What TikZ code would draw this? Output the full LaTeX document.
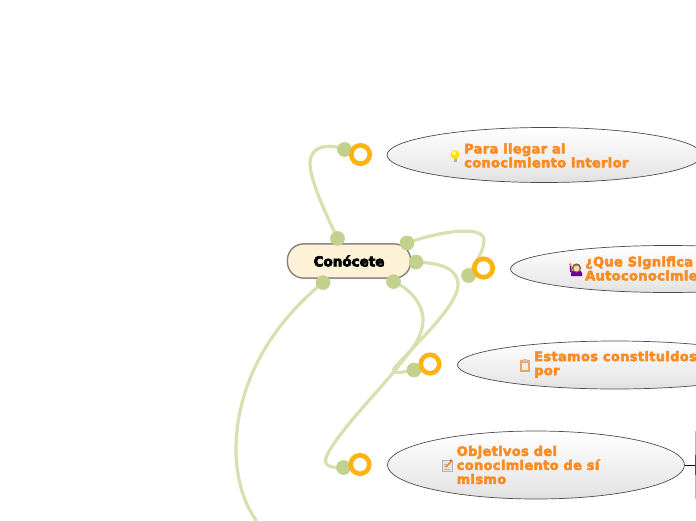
\documentclass[tikz,border=0pt]{standalone}
\usepackage{fontspec}
\setmainfont[FakeBold=4,LetterSpace=2.6]{DejaVu Sans Bold}
\newfontfamily\titlefont[FakeBold=5]{DejaVu Sans Bold}
\usetikzlibrary{shapes.geometric}
\definecolor{linkgreen}{HTML}{D7E0AE}
\definecolor{dotgreen}{HTML}{C2D18E}
\definecolor{ringorange}{HTML}{FFB30F}
\definecolor{textorange}{HTML}{FB8C23}
\definecolor{rootfill}{HTML}{FDF1D8}
\definecolor{rootline}{HTML}{857C78}
\pgfdeclareverticalshading{bubbleshade}{100bp}{
 color(0bp)=(white!97!black); color(24bp)=(black!13); color(34bp)=(black!9); color(62bp)=(white!97!black); color(75bp)=(white); color(100bp)=(white)}
\tikzset{
 link/.style={draw=linkgreen,line width=3.2pt,line cap=round},
 dot/.style={circle,fill=dotgreen,minimum size=14.5pt,inner sep=0pt},
 ring/.style={circle,draw=ringorange,line width=4.6pt,fill=white,minimum size=18.5pt,inner sep=0pt},
 bubble/.style={ellipse,draw=black!70,line width=.7pt,shading=bubbleshade,inner sep=0pt},
 topic/.style={anchor=west,align=left,text=textorange,font=\fontsize{13}{14}\selectfont,inner sep=0pt},
 rootbox/.style={rounded corners=16pt,draw=rootline,line width=1.2pt,fill=rootfill,minimum width=123pt,minimum height=34pt,inner sep=0pt,font=\titlefont\fontsize{13.5}{15}\selectfont}
}
\begin{document}
\begin{tikzpicture}[x=1pt,y=-1pt]
\useasboundingbox (0,0) rectangle (696,520);
\node[rootbox] (root) at (349,261) {Conócete};
\node[dot] (r1) at (337.5,238.5) {};
\node[dot] (r2) at (407,243) {};
\node[dot] (r3) at (416,262) {};
\node[dot] (r4) at (393.5,281.5) {};
\node[dot] (r5) at (323,282.5) {};
\node[dot] (a1) at (344.5,149.5) {};
\node[dot] (a2) at (468.5,275.5) {};
\node[dot] (a3) at (414,370) {};
\node[dot] (a4) at (343.5,467.5) {};
\coordinate (e5) at (256,520);
\draw[link] (r1.center) .. controls (325,212) and (310,180) .. (310,163) .. controls (310,146) and (328,143) .. (a1.center);
\draw[link] (r2.center) .. controls (440,231) and (484,225) .. (484,240) .. controls (484,252) and (475,262) .. (a2.center);
\draw[link] (r3.center) .. controls (440,263) and (458,268) .. (458,285) .. controls (458,305) and (415,345) .. (396,366) .. controls (391,372) and (394,373) .. (400,372.5) -- (a3.center);
\draw[link] (r4.center) .. controls (408,288) and (423,302) .. (423,320) .. controls (423,340) and (405,357) .. (397,368) .. controls (375,395) and (340,430) .. (327,455) .. controls (322,466) and (330,468) .. (a4.center);
\draw[link] (r5.center) .. controls (265,330) and (236,390) .. (236,450) .. controls (236,480) and (245,505) .. (e5);
\node[rootbox] at (349,261) {Conócete};
\foreach \x/\y in {337.5/238.5,407/243,416/262,393.5/281.5,323/282.5,344.5/149.5,468.5/275.5,414/370,343.5/467.5}{\node[dot] at (\x,\y) {};}
\node[ring] (o1) at (360.5,154.5) {};
\node[ring] (o2) at (483.5,268) {};
\node[ring] (o3) at (430,364) {};
\node[ring] (o4) at (360,464.5) {};
\node[bubble,minimum width=315pt,minimum height=55pt] (b1) at (544.5,155) {};
\node[bubble,minimum width=315pt,minimum height=47pt] (b2) at (668,269) {};
\node[bubble,minimum width=315pt,minimum height=48pt] (b3) at (615,365) {};
\node[bubble,minimum width=297pt,minimum height=68pt] (b4) at (536,465) {};
\node[topic] (t1) at (464,155.5) {Para llegar al\\conocimiento interior};
\node[topic] (t2) at (585,268.5) {¿Que Significa\\Autoconocimiento};
\node[topic] (t3) at (534,364.5) {Estamos constituidos\\por};
\node[topic] (t4) at (456.5,465) {Objetivos del\\conocimiento de sí\\mismo};
% bulb
\fill[gray!60] (453.5,157) rectangle (457,161.5);
\fill[yellow!85!orange] (455,154.5) circle (4.6pt);
\fill[yellow!35] (454,153) circle (2pt);
% person
\fill[violet!80!blue] (571,273) .. controls (572,268) and (581,268) .. (582,273) -- (582,276) -- (571,276) -- cycle;
\fill[brown!75!black] (576.5,268) circle (4.6pt);
\fill[orange!30!white] (576.5,268.5) circle (3pt);
\draw[violet!80!blue,line width=1.6pt] (571,272) -- (570.5,266);
\fill[orange!70!brown] (570.5,264.5) circle (1.4pt);
% clipboard
\fill[brown!55!orange!70] (519.5,360) rectangle (530,371.5);
\fill[white!92!black] (521.5,362.5) rectangle (528,369.5);
\fill[gray!45] (522.5,359) rectangle (527,362);
% note
\fill[white!90!black,draw=gray!60,line width=.5pt] (442,460.5) rectangle (452,471);
\draw[gray!60,line width=.5pt] (443.5,464) -- (447,464) (443.5,466.5) -- (447,466.5) (443.5,469) -- (450,469);
\draw[orange,line width=1.5pt] (446,467) -- (451.5,461);
\fill[red!70] (451,460) circle (1pt);
% right edge
\coordinate (edge) at (696,465);
\draw[black,line width=.8pt] (b4.east) -- (edge);
\draw[gray!55,line width=1.6pt] (695.5,431) -- (695.5,499);
\draw[black!70,line width=1.6pt] (695.5,455) -- (695.5,475);
\end{tikzpicture}
\end{document}
